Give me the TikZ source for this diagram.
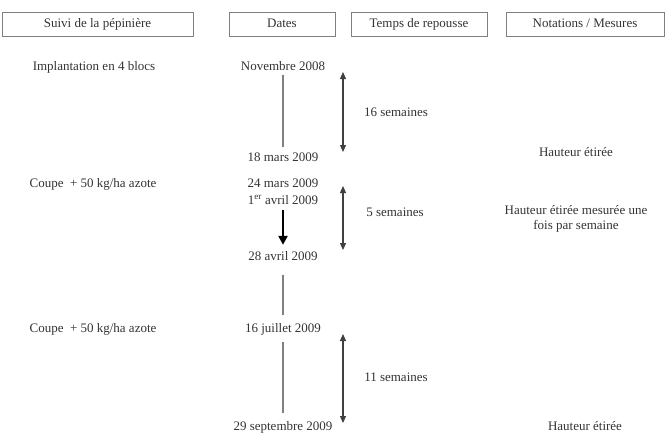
\documentclass[tikz,border=0pt]{standalone}
\usepackage{fontspec}
\setmainfont{Liberation Serif}
\usetikzlibrary{arrows.meta}
\definecolor{txt}{HTML}{333333}
\definecolor{ln}{HTML}{808080}
\begin{document}
\begin{tikzpicture}[x=1pt,y=-1pt,
  every node/.style={font=\fontsize{13}{15}\selectfont, text=txt, inner sep=2pt},
  lbl/.style={text height=8.5pt, text depth=2.5pt},
  hbox/.style={lbl, draw=ln, line width=1pt, minimum height=24pt},
  vline/.style={draw=ln, line width=1.3pt},
  dbl/.style={draw=black!75, line width=1.2pt, {Triangle[length=7pt,width=6pt]}-{Triangle[length=7pt,width=6pt]}},
  bigarrow/.style={draw=black, line width=2.8pt, -{Triangle[length=9pt,width=9pt]}}]
\useasboundingbox (0,0) rectangle (672,440);
% header boxes
\node[hbox, minimum width=191pt] (h1) at (97.5,24.5) {Suivi de la pépinière};
\node[hbox, minimum width=106pt] (h2) at (282,24.5) {Dates};
\node[hbox, minimum width=136pt] (h3) at (419,24.5) {Temps de repousse};
\node[hbox, minimum width=158pt] (h4) at (585,24.5) {Notations / Mesures};
% left column
\node[lbl] (impl) at (94,67) {Implantation en 4 blocs};
\node[lbl] (coupe1) at (93,184) {Coupe \ + 50 kg/ha azote};
\node[lbl] (coupe2) at (93,329) {Coupe \ + 50 kg/ha azote};
% dates
\node[lbl] (nov) at (283,67) {Novembre 2008};
\node[lbl] (m18) at (283,158) {18 mars 2009};
\node[lbl] (m24) at (283,184) {24 mars 2009};
\node[lbl] (avr1) at (283,201) {1\textsuperscript{er} avril 2009};
\node[lbl] (avr28) at (283,257) {28 avril 2009};
\node[lbl] (j16) at (283,329) {16 juillet 2009};
\node[lbl] (s29) at (283,427) {29 septembre 2009};
% durations
\node[lbl] (d16) at (396,113) {16 semaines};
\node[lbl] (d5) at (395,213) {5 semaines};
\node[lbl] (d11) at (396,378) {11 semaines};
% notations
\node[lbl] (n1) at (576,153) {Hauteur étirée};
\node[align=center] (n2) at (576,218.5) {Hauteur étirée mesurée une\\fois par semaine};
\node[lbl] (n3) at (585,427) {Hauteur étirée};
% timeline
\draw[vline, shorten >=3.5pt] (nov) -- (m18);
\draw[vline, shorten <=10pt, shorten >=6.5pt] (avr28) -- (j16);
\draw[vline, shorten <=5.5pt, shorten >=6.5pt] (j16) -- (s29);
\draw[bigarrow, shorten <=1.5pt, shorten >=4.5pt] (avr1) -- (avr28);
% duration arrows
\coordinate (a1t) at (343,72);
\coordinate (a1b) at (343,152);
\coordinate (a2t) at (343,186);
\coordinate (a2b) at (343,250);
\coordinate (a3t) at (343,334);
\coordinate (a3b) at (343,423);
\draw[dbl] (a1t) -- (a1b);
\draw[dbl] (a2t) -- (a2b);
\draw[dbl] (a3t) -- (a3b);
\end{tikzpicture}
\end{document}
